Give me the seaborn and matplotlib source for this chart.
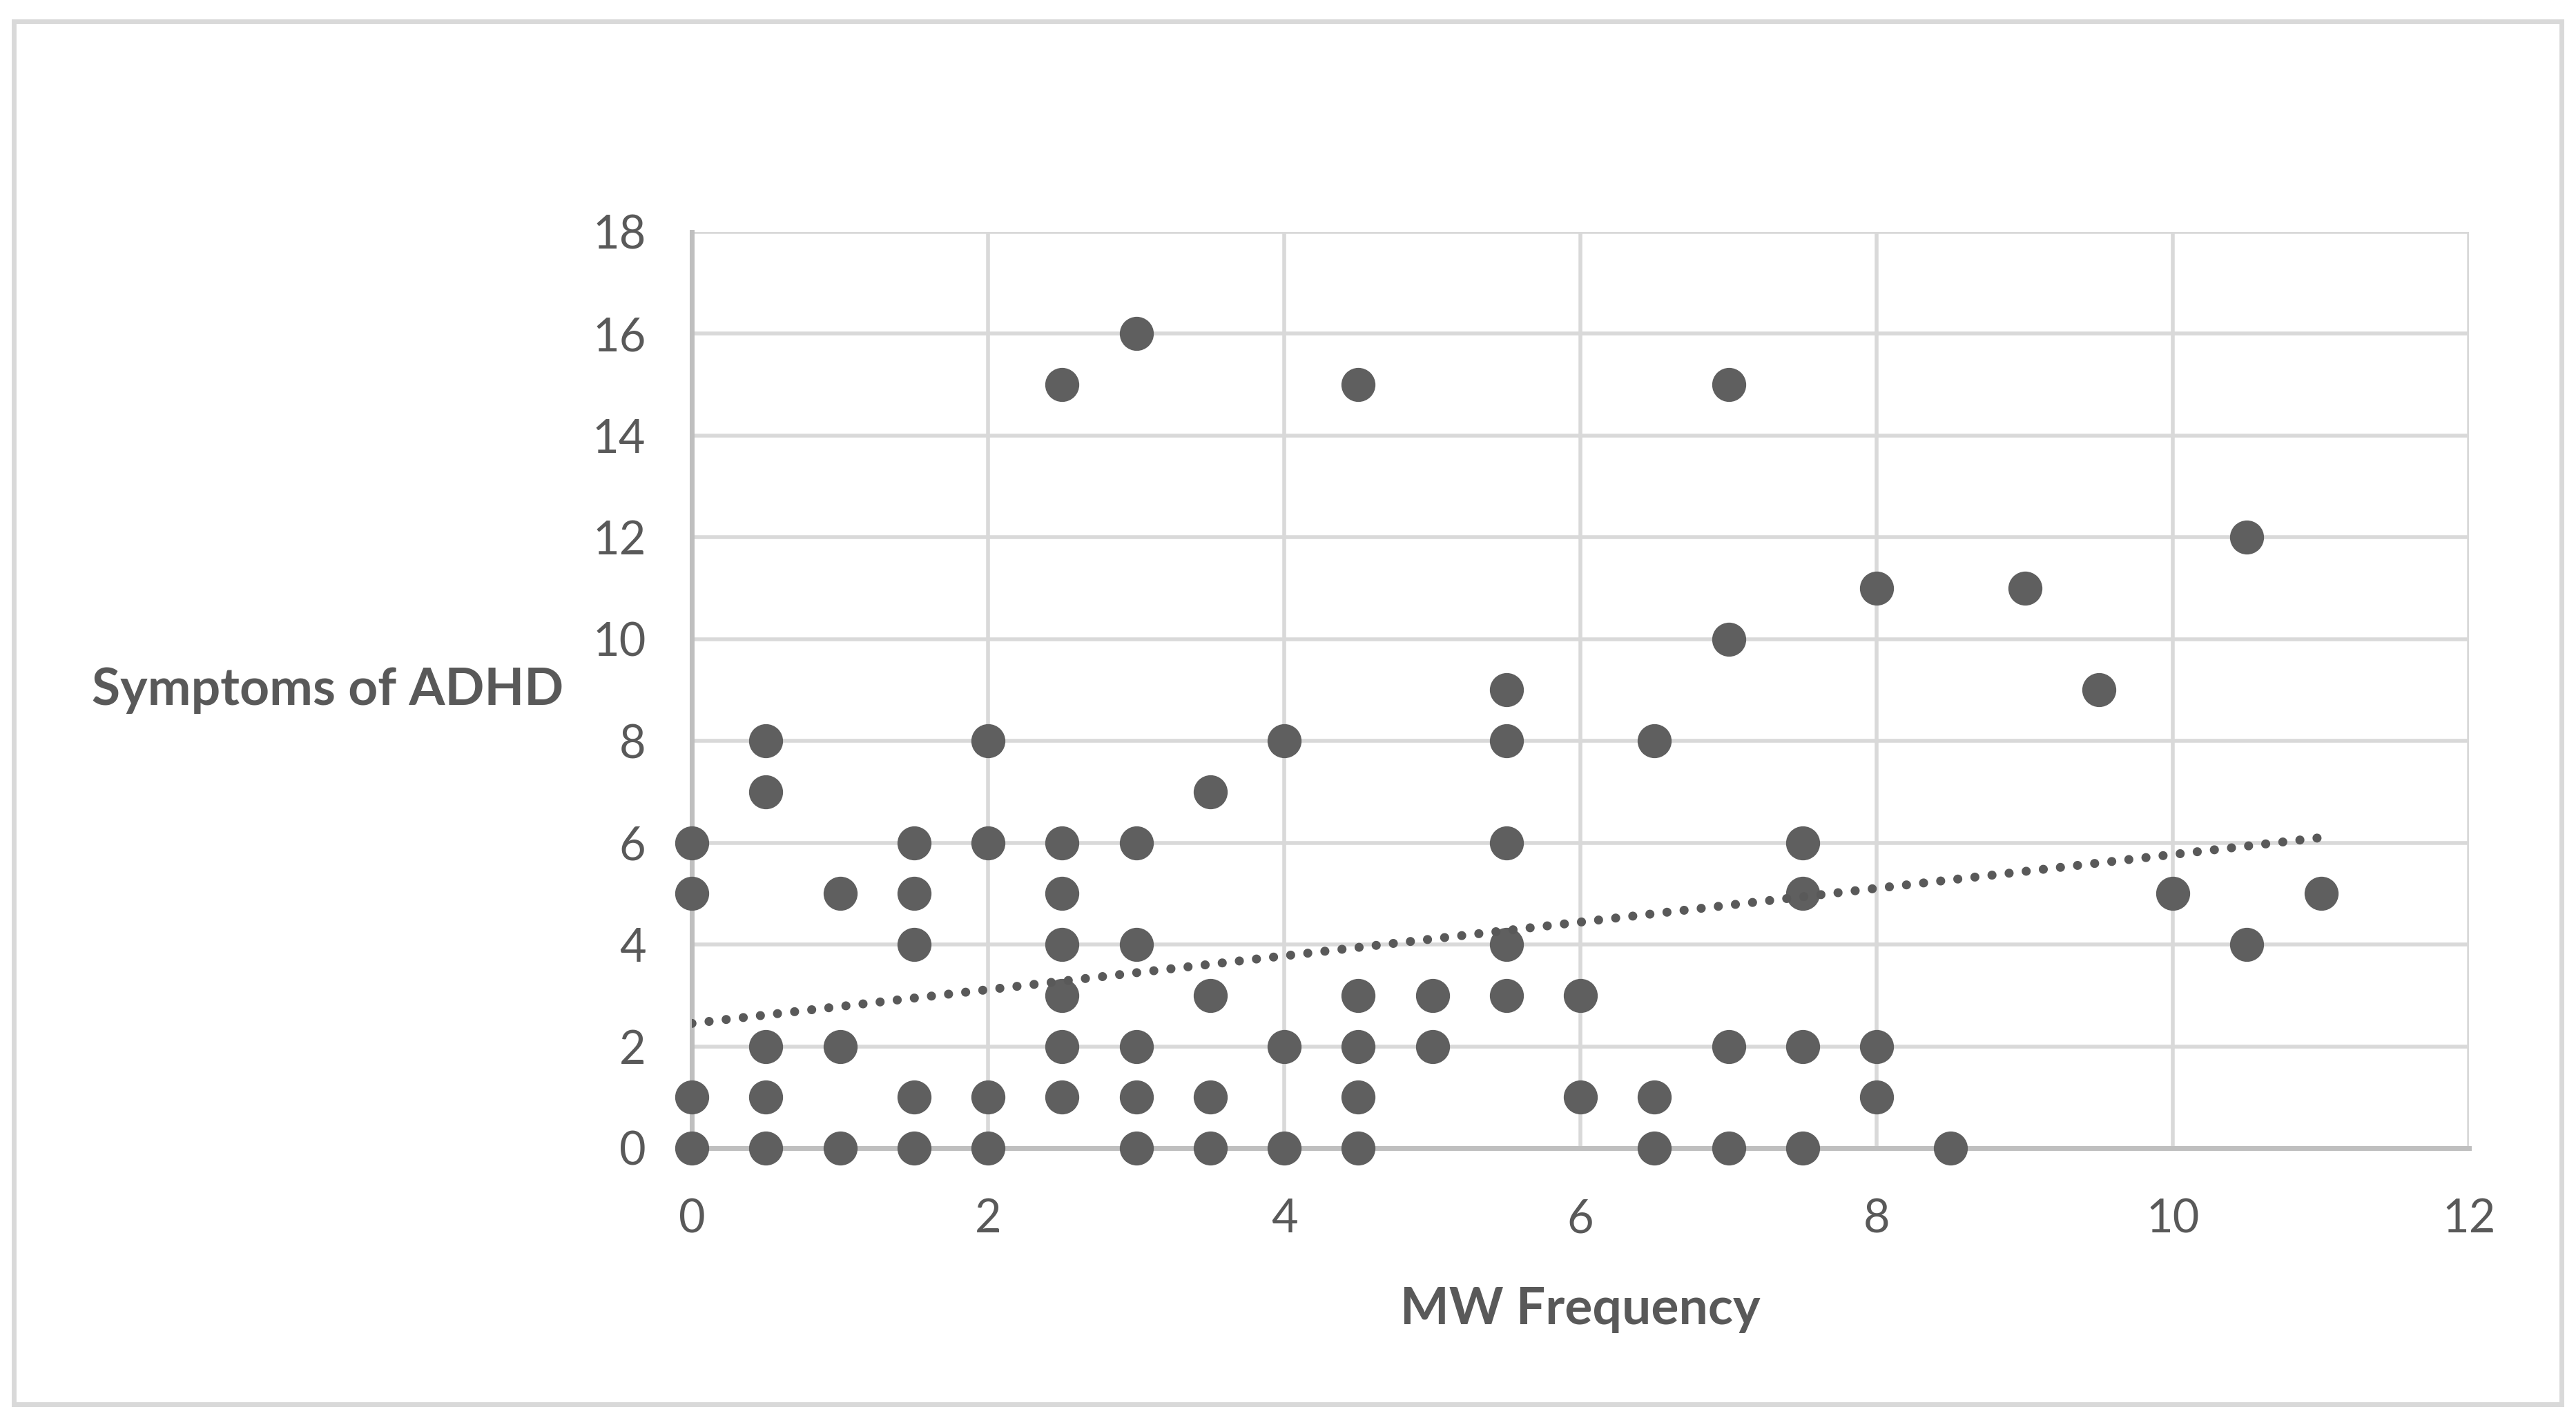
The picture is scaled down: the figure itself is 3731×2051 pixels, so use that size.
import numpy as np
import pandas as pd
import matplotlib.pyplot as plt
import seaborn as sns
from matplotlib.patches import Rectangle

# MW frequency (x) and ADHD symptom scores (y)
mw_frequency = [0, 0, 0, 0,
                0.5, 0.5, 0.5, 0.5, 0.5,
                1, 1, 1,
                1.5, 1.5, 1.5, 1.5, 1.5,
                2, 2, 2, 2,
                2.5, 2.5, 2.5, 2.5, 2.5, 2.5, 2.5,
                3, 3, 3, 3, 3, 3,
                3.5, 3.5, 3.5, 3.5,
                4, 4, 4,
                4.5, 4.5, 4.5, 4.5, 4.5,
                5, 5,
                5.5, 5.5, 5.5, 5.5, 5.5,
                6, 6,
                6.5, 6.5, 6.5,
                7, 7, 7, 7,
                7.5, 7.5, 7.5, 7.5,
                8, 8, 8,
                8.5, 9, 9.5, 10,
                10.5, 10.5,
                11]
adhd_symptoms = [6, 5, 1, 0,
                 8, 7, 2, 1, 0,
                 5, 2, 0,
                 6, 5, 4, 1, 0,
                 8, 6, 1, 0,
                 15, 6, 5, 4, 3, 2, 1,
                 16, 6, 4, 2, 1, 0,
                 7, 3, 1, 0,
                 8, 2, 0,
                 15, 3, 2, 1, 0,
                 3, 2,
                 9, 8, 6, 4, 3,
                 3, 1,
                 8, 1, 0,
                 15, 10, 2, 0,
                 6, 5, 2, 0,
                 11, 2, 1,
                 0, 11, 9, 5,
                 12, 4,
                 5]

# linear trendline as drawn in the chart (some points overlap, so read it off directly)
trend_x = [0, 11]
trend_y = [2.45, 6.1]

df = pd.DataFrame({'MW Frequency': mw_frequency, 'Symptoms of ADHD': adhd_symptoms})
trend = pd.DataFrame({'x': trend_x, 'y': trend_y})

sns.set_style('white')
plt.rcParams['font.family'] = ['Lato', 'DejaVu Sans']

text_col = '#595959'
dot_col = '#5f5f5f'

fig = plt.figure(figsize=(18.655, 10.255), dpi=200)
ax = fig.add_axes([0.2686, 0.1892, 0.6899, 0.6470])

sns.scatterplot(data=df, x='MW Frequency', y='Symptoms of ADHD', ax=ax,
                s=315, color=dot_col, linewidth=0, clip_on=False, zorder=3)
sns.lineplot(data=trend, x='x', y='y', ax=ax, color=text_col, linewidth=4.7,
             dashes=False, zorder=4)
trend_line = ax.lines[-1]
trend_line.set_dashes((0.01, 1.9))
trend_line.set_dash_capstyle('round')

ax.set_xlim(0, 12)
ax.set_ylim(0, 18)
ax.set_xticks(range(0, 13, 2))
ax.set_yticks(range(0, 19, 2))
ax.grid(True, color='#d9d9d9', linewidth=2)
ax.set_axisbelow(True)
for side in ['top', 'right']:
    ax.spines[side].set_visible(False)
for side in ['left', 'bottom']:
    ax.spines[side].set_color('#bfbfbf')
    ax.spines[side].set_linewidth(2.5)
    ax.spines[side].set_zorder(1)
ax.tick_params(length=0, labelsize=24, colors=text_col)
ax.tick_params(axis='x', pad=26)
ax.tick_params(axis='y', pad=24)

ax.set_xlabel('MW Frequency', fontsize=27, fontweight='bold', color=text_col)
ax.set_ylabel('Symptoms of ADHD', fontsize=27, fontweight='bold', color=text_col,
              rotation=0, ha='right', va='center')
ax.xaxis.set_label_coords(0.5, -0.15)
ax.yaxis.set_label_coords(-0.0723, 0.5)

fig.add_artist(Rectangle((0.0054, 0.0083), 0.989, 0.9767, transform=fig.transFigure,
                         fill=False, edgecolor='#d9d9d9', linewidth=2.5))

fig.savefig('out.png', dpi=200, facecolor='white')
